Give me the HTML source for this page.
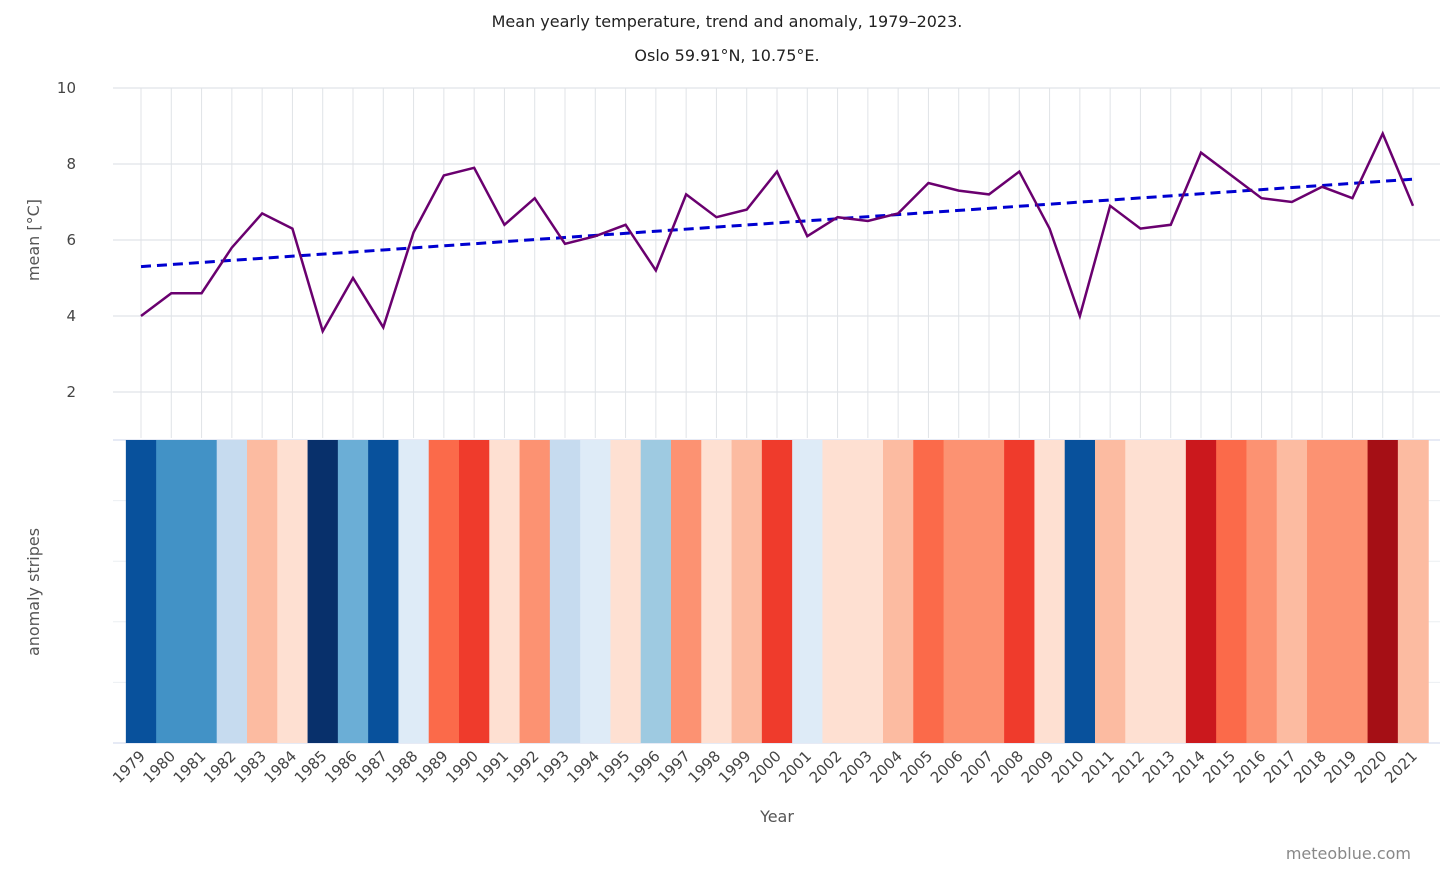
<!DOCTYPE html>
<html><head><meta charset="utf-8"><style>
body{margin:0;background:#fff;font-family:"Liberation Sans","DejaVu Sans",sans-serif}
svg text{font-family:"DejaVu Sans","Liberation Sans",sans-serif}
</style></head><body>
<svg id="c" width="1456" height="874">
<text x="727" y="27" text-anchor="middle" font-size="16" fill="#222">Mean yearly temperature, trend and anomaly, 1979–2023.</text>
<text x="727" y="61" text-anchor="middle" font-size="16" fill="#222">Oslo 59.91°N, 10.75°E.</text>
<text transform="translate(39,240) rotate(-90)" text-anchor="middle" font-size="16" fill="#555">mean [°C]</text>
<text transform="translate(39,592) rotate(-90)" text-anchor="middle" font-size="16" fill="#555">anomaly stripes</text>
<text x="777" y="822" text-anchor="middle" font-size="16" fill="#555">Year</text>
<text x="1411" y="859" text-anchor="end" font-size="16" fill="#888">meteoblue.com</text>
<g id="g"></g>
</svg>
<script>
const years=[1979,1980,1981,1982,1983,1984,1985,1986,1987,1988,1989,1990,1991,1992,1993,1994,1995,1996,1997,1998,1999,2000,2001,2002,2003,2004,2005,2006,2007,2008,2009,2010,2011,2012,2013,2014,2015,2016,2017,2018,2019,2020,2021];
const temps=[4.0,4.6,4.6,5.8,6.7,6.3,3.6,5.0,3.7,6.2,7.7,7.9,6.4,7.1,5.9,6.1,6.4,5.2,7.2,6.6,6.8,7.8,6.1,6.6,6.5,6.7,7.5,7.3,7.2,7.8,6.3,4.0,6.9,6.3,6.4,8.3,7.7,7.1,7.0,7.4,7.1,8.8,6.9];
const trendStart=5.3, trendEnd=7.6;
const yTicks=[2,4,6,8,10];
const stripeColors=["#08519c","#4292c6","#4292c6","#c6dbef","#fcbba1","#fee0d2","#08306b","#6baed6","#08519c","#deebf7","#fb6a4a","#ef3b2c","#fee0d2","#fc9272","#c6dbef","#deebf7","#fee0d2","#9ecae1","#fc9272","#fee0d2","#fcbba1","#ef3b2c","#deebf7","#fee0d2","#fee0d2","#fcbba1","#fb6a4a","#fc9272","#fc9272","#ef3b2c","#fee0d2","#08519c","#fcbba1","#fee0d2","#fee0d2","#cb181d","#fb6a4a","#fc9272","#fcbba1","#fc9272","#fc9272","#a50f15","#fcbba1"];
const NS="http://www.w3.org/2000/svg",g=document.getElementById('g');
const step=(1413-141)/(years.length-1);
const X=i=>141+i*step, Y=v=>88+(10-v)*38;
function el(t,a){const e=document.createElementNS(NS,t);for(const k in a)e.setAttribute(k,a[k]);g.appendChild(e);return e;}
yTicks.forEach(v=>{const l=el('line',{x1:113,x2:1440,y1:Y(v),y2:Y(v),stroke:'#d8dde3'});


const t=el('text',{x:76,y:Y(v)+5,'text-anchor':'end','font-size':15,fill:'#444'});t.textContent=v;

});
years.forEach((y,i)=>{const l=el('line',{x1:X(i),x2:X(i),y1:88,y2:438,stroke:'#e0e3e7'});

});
for(let k=0;k<6;k++){const yy=440+k*60.6;const l=el('line',{x1:113,x2:1440,y1:yy,y2:yy,stroke:k==0||k==5?'#ccd6eb':'#eceff2'});

}
years.forEach((y,i)=>{const r=el('rect',{x:X(i)-step/2,y:440,width:step+0.6,height:303,fill:stripeColors[i]});


const t=el('text',{transform:`translate(${X(i)+5},${757}) rotate(-45)`,'text-anchor':'end','font-size':15,fill:'#444'});t.textContent=y;

});
const tr=el('line',{x1:X(0),y1:Y(trendStart),x2:X(years.length-1),y2:Y(trendEnd),stroke:'#0000d0','stroke-width':3,'stroke-dasharray':'10,6'});


const p=el('polyline',{points:temps.map((v,i)=>X(i)+','+Y(v)).join(' '),fill:'none',stroke:'#6a006f','stroke-width':2.5,'stroke-linejoin':'miter'});


</script>
</body></html>
